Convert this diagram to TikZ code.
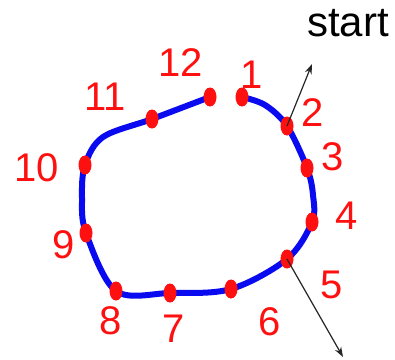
\documentclass[tikz,border=0pt]{standalone}
\usepackage{fontspec}
\setmainfont{Liberation Sans}
\usetikzlibrary{arrows.meta}
\definecolor{cblue}{HTML}{0A0AF0}
\definecolor{cred}{HTML}{FF1010}
\tikzset{
  curve/.style={draw=cblue,line width=6pt,line cap=round,line join=round},
  dot/.style={ellipse,fill=cred,minimum width=13pt,minimum height=19pt,inner sep=0pt},
  lab/.style={text=cred,inner sep=0pt,font=\fontsize{40}{40}\selectfont},
  arr/.style={draw=black!85,line width=1.2pt,-{Stealth[length=10pt,width=7pt]}}
}
\usetikzlibrary{shapes.geometric}
\begin{document}
\begin{tikzpicture}[x=1pt,y=-1pt]
\useasboundingbox (0,0) rectangle (395,359);
\coordinate (c1) at (242,97);
\coordinate (c2) at (287,126);
\coordinate (c3) at (307,168);
\coordinate (c4) at (312,222);
\coordinate (c5) at (287,259);
\coordinate (c6) at (231,289);
\coordinate (c7) at (170,293);
\coordinate (c8) at (116,291);
\coordinate (c9) at (86,233);
\coordinate (c10) at (85,165);
\coordinate (c11) at (152,119);
\coordinate (c12) at (210,97);
\draw[curve] plot[smooth,tension=0.55] coordinates {(c1) (265,105) (c2) (c3) (313,195) (c4) (c5) (c6) (c7) (c8) (c9) (82,198) (c10) (103,137) (c11) (c12)};
\foreach \i in {1,...,12} \node[dot] (p\i) at (c\i) {};
\coordinate (s) at (312,64);
\coordinate (e) at (343,357);
\draw[arr] (p2.center) -- (s);
\draw[arr] (p5.center) -- (e);
\node[inner sep=0pt,font=\fontsize{42}{42}\selectfont] (start) at (348,23) {start};
\node[lab] (l1) at (252,75) {1};
\node[lab] (l2) at (313,113) {2};
\node[lab] (l3) at (333,157) {3};
\node[lab] (l4) at (347,216) {4};
\node[lab] (l5) at (332,285) {5};
\node[lab] (l6) at (270,322) {6};
\node[lab] (l7) at (174,329) {7};
\node[lab] (l8) at (111,321) {8};
\node[lab] (l9) at (64,245) {9};
\node[lab] (l10) at (37,168) {10};
\node[lab] (l11) at (105,97) {11};
\node[lab] (l12) at (181,63) {12};
\end{tikzpicture}
\end{document}
